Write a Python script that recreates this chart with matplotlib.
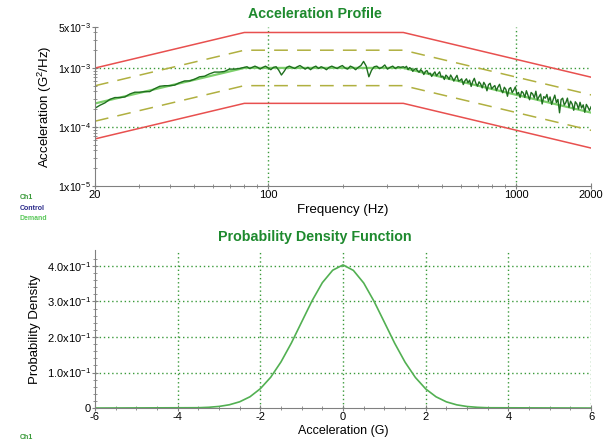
import numpy as np
import matplotlib.pyplot as plt

plt.rcParams['font.family'] = ['Liberation Sans', 'DejaVu Sans']
plt.rcParams['mathtext.fontset'] = 'custom'
plt.rcParams['mathtext.rm'] = 'Liberation Sans'
plt.rcParams['mathtext.it'] = 'Liberation Sans'

# demand profile breakpoints (Hz, G^2/Hz)
demand_f = [20, 80, 350, 2000]
demand_psd = [2.5e-4, 1.0e-3, 1.0e-3, 1.75e-4]
abort_db = 6
alarm_db = 3

# control trace, deviation from demand in dB
dev_low = [-0.8, -0.5, -0.3, 0.1, 0.2, 0.0, -0.1, 0.2, 0.3, 0.1, 0.0, -0.2, 0.1, 0.3, 0.2,
           0.0, -0.1, 0.1, 0.2, 0.0, 0.1, 0.3, 0.2, 0.4, 0.5, 0.3, 0.2, 0.4, 0.2, 0.1]
dev_mid = [0.1, 0.2, -0.1, 0.1, 0.3, 0.1, -0.2, 0.1, 0.3, 0.0, -0.3, 0.1, 0.2, -0.4, -1.2,
           -0.6, 0.1, 0.3, 0.1, -0.1, 0.2, 0.4, 0.1, -0.2, 0.1, -0.3, 0.1, 0.3, -0.1, 0.2,
           0.0, -0.3, 0.1, 0.3, 0.1, -0.1, 0.2, 0.4, 0.0, -0.2, 0.3, 0.1, -0.3, 0.1, 0.4,
           1.1, 0.3, -1.5, -0.4, 0.2, 0.3, -0.1, 0.1, 0.5, -0.2, 0.1, 0.3, -0.1, 0.2, 0.1]
dev_high = [0.2, 0.1, 0.4, -0.1, 0.3, 0.2, -0.2, 0.2, 0.4, 0.1, -0.1, 0.4, 0.2, -0.3, 0.3,
            0.5, 0.0, 0.2, -0.3, 0.2, 0.6, 0.0, 0.4, 0.8, 0.0, 0.2, -0.3, 0.5, 0.3, -0.1,
            0.7, 0.3, -0.2, 0.4, 0.9, 0.0, 0.2, 0.5, -0.4, 0.3, 0.7, 0.1, 0.6, -0.4, 0.5,
            1.1, 0.3, -0.1, 0.7, 0.4, -0.2, 0.8, 0.4, -0.5, 0.6, 0.9, 0.0, 0.4, 0.7, -0.1,
            0.6, 1.1, 0.2, -0.2, 0.8, 0.5, -0.6, 0.7, 1.0, 0.2, 0.7, 1.3, 0.1, 0.5, -0.3,
            0.8, 0.6, -0.1, 1.1, 0.4, -0.3, 1.0, 0.8, 0.2, 1.4, 0.0, 0.6, 1.1, -0.5, 0.8,
            0.6, 1.3, 0.2, 1.0, -0.2, 0.7, 1.5, 0.3, 0.9, -1.3, 1.0, 1.3, 0.2, 0.7, 1.5,
            0.0, 1.1, 0.7, -0.3, 1.2, 0.9, 0.1, 1.3, 0.4, 1.0, -0.2, 1.2, 0.8, 0.3, 1.0]

# probability density (G, density)
pdf_x = [-6, -3.5, -3.25, -3.0, -2.75, -2.5, -2.25, -2.0, -1.75, -1.5, -1.25, -1.0, -0.75,
         -0.5, -0.25, 0.0, 0.25, 0.5, 0.75, 1.0, 1.25, 1.5, 1.75, 2.0, 2.25, 2.5, 2.75,
         3.0, 3.25, 3.5, 6]
pdf_y = [0, 0.0009, 0.0021, 0.0045, 0.0092, 0.0176, 0.0318, 0.0545, 0.0866, 0.1300,
         0.1830, 0.2425, 0.3018, 0.3530, 0.3880, 0.4030, 0.3875, 0.3520, 0.3005, 0.2415,
         0.1822, 0.1292, 0.0860, 0.0538, 0.0316, 0.0174, 0.0090, 0.0043, 0.0020, 0.0008, 0]

green = '#1e8a2e'
grid_c = '#3a9a3a'
spine_c = '#808080'

fig = plt.figure(figsize=(6.05, 4.44), dpi=100)
ax1 = fig.add_axes([0.157, 0.581, 0.820, 0.359])
ax2 = fig.add_axes([0.157, 0.081, 0.820, 0.356])

# --- acceleration profile ---
df = np.array(demand_f, float)
dp = np.array(demand_psd)
ax1.plot(df, dp * 10 ** (abort_db / 10), color='#e8504f', lw=1.1)
ax1.plot(df, dp * 10 ** (-abort_db / 10), color='#e8504f', lw=1.1)
ax1.plot(df, dp * 10 ** (alarm_db / 10), color='#b0b040', lw=1.1, dashes=(9, 6))
ax1.plot(df, dp * 10 ** (-alarm_db / 10), color='#b0b040', lw=1.1, dashes=(9, 6))
ax1.plot(df, dp, color='#7ccf6b', lw=1.6)

fc = np.concatenate([np.geomspace(20, 80, len(dev_low), endpoint=False),
                     np.geomspace(80, 350, len(dev_mid), endpoint=False),
                     np.geomspace(350, 2000, len(dev_high))])
dev = np.array(dev_low + dev_mid + dev_high)
base = np.interp(np.log10(fc), np.log10(df), np.log10(dp))
ax1.plot(fc, 10 ** base * 10 ** (dev / 10), color='#1f6f1f', lw=1.0)

ax1.set_xscale('log')
ax1.set_yscale('log')
ax1.set_xlim(20, 2000)
ax1.set_ylim(1e-5, 5e-3)
ax1.set_xticks([20, 100, 1000, 2000])
ax1.set_xticklabels(['20', '100', '1000', '2000'])
ax1.set_yticks([1e-5, 1e-4, 1e-3, 5e-3])
ax1.set_yticklabels([r'$\mathregular{1x10^{-5}}$', r'$\mathregular{1x10^{-4}}$',
                     r'$\mathregular{1x10^{-3}}$', r'$\mathregular{5x10^{-3}}$'])
for v in [1e-4, 1e-3]:
    ax1.axhline(v, color=grid_c, lw=1, ls=(0, (1, 2)), zorder=0)
for v in [100, 1000]:
    ax1.axvline(v, color=grid_c, lw=1, ls=(0, (1, 2)), zorder=0)
ax1.set_xlabel('Frequency (Hz)', fontsize=9.5, labelpad=3)

# --- probability density ---
ax2.plot(pdf_x, pdf_y, color='#52b052', lw=1.2)
ax2.set_xlim(-6, 6)
ax2.set_ylim(0, 0.445)
ax2.set_xticks([-6, -4, -2, 0, 2, 4, 6])
ax2.set_xticklabels(['-6', '-4', '-2', '0', '2', '4', '6'])
ax2.set_yticks([0, 0.1, 0.2, 0.3, 0.4])
ax2.set_yticklabels(['0', r'$\mathregular{1.0x10^{-1}}$', r'$\mathregular{2.0x10^{-1}}$',
                     r'$\mathregular{3.0x10^{-1}}$', r'$\mathregular{4.0x10^{-1}}$'])
ax2.set_xticks(np.arange(-6, 6.01, 0.5), minor=True)
ax2.set_yticks(np.arange(0, 0.44, 0.02), minor=True)
for v in [0.1, 0.2, 0.3, 0.4]:
    ax2.axhline(v, color=grid_c, lw=1, ls=(0, (1, 2)), zorder=0)
for v in [-4, -2, 0, 2, 4, 6]:
    ax2.axvline(v, color=grid_c, lw=1, ls=(0, (1, 2)), zorder=0)
ax2.set_xlabel('Acceleration (G)', fontsize=9, labelpad=2)

for ax in (ax1, ax2):
    ax.spines['top'].set_visible(False)
    ax.spines['right'].set_visible(False)
    ax.spines['left'].set_color(spine_c)
    ax.spines['bottom'].set_color(spine_c)
    ax.tick_params(which='major', direction='inout', length=4, color=spine_c,
                   labelsize=8, pad=1)
    ax.tick_params(which='minor', direction='inout', length=2.5, color=spine_c)
    ax.set_facecolor('white')
ax1.tick_params(axis='y', labelsize=7.6)

# axis titles placed where the original has them
fig.text(45 / 605, 1 - 107 / 444, r'Acceleration (G$\mathregular{^2}$/Hz)', fontsize=9.5,
         rotation=90, ha='center', va='center')
fig.text(35 / 605, 1 - 329 / 444, 'Probability Density', fontsize=9.5,
         rotation=90, ha='center', va='center')

fig.text(0.521, 1 - 14 / 444, 'Acceleration Profile', color=green, fontsize=10.3,
         fontweight='bold', ha='center', va='center')
fig.text(0.521, 1 - 237 / 444, 'Probability Density Function', color=green, fontsize=10.3,
         fontweight='bold', ha='center', va='center')

fig.text(0.033, 1 - 197 / 444, 'Ch1', color='#3a9a3a', fontsize=5, fontweight='bold', va='center')
fig.text(0.033, 1 - 208 / 444, 'Control', color='#2a2a8a', fontsize=5, fontweight='bold', va='center')
fig.text(0.033, 1 - 219 / 444, 'Demand', color='#5ac85a', fontsize=5, fontweight='bold', va='center')
fig.text(0.033, 1 - 437 / 444, 'Ch1', color='#3a9a3a', fontsize=5, fontweight='bold', va='center')

fig.savefig('out.png', dpi=100)
